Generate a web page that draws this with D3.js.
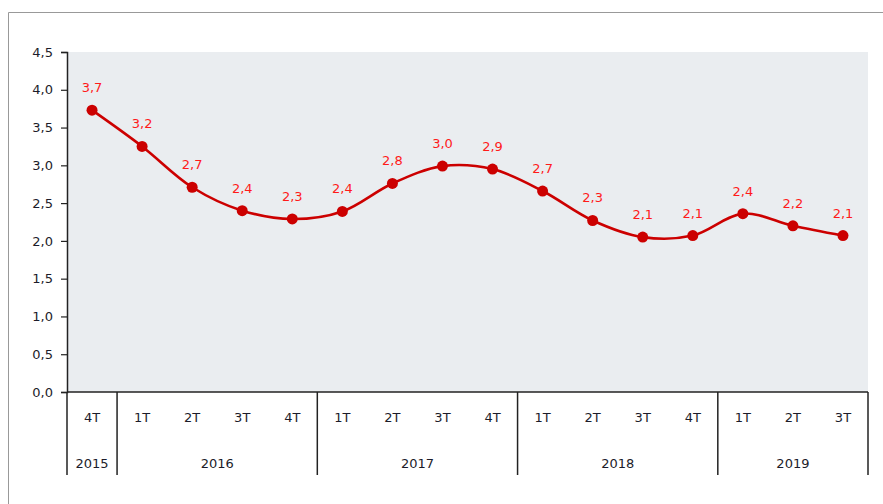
<!DOCTYPE html>
<html>
<head>
<meta charset="utf-8">
<script src="https://cdn.jsdelivr.net/npm/d3@7"></script>
<style>
  body { margin: 0; background: #fff; }
  svg { display: block; font-family: "DejaVu Sans", Verdana, sans-serif; }
</style>
</head>
<body>
<svg id="chart" width="883" height="504"></svg>
<script>
// quarters and values
var quarters = ["4T", "1T", "2T", "3T", "4T", "1T", "2T", "3T", "4T", "1T", "2T", "3T", "4T", "1T", "2T", "3T"];
var years = ["2015", "2016", "2016", "2016", "2016", "2017", "2017", "2017", "2017",
             "2018", "2018", "2018", "2018", "2019", "2019", "2019"];
var values = [3.73, 3.25, 2.71, 2.40, 2.29, 2.39, 2.76, 2.99, 2.95, 2.66, 2.27, 2.05, 2.07, 2.36, 2.20, 2.07];
var valueLabels = ["3,7", "3,2", "2,7", "2,4", "2,3", "2,4", "2,8", "3,0", "2,9", "2,7", "2,3", "2,1", "2,1", "2,4", "2,2", "2,1"];
var yTicks = [0, 0.5, 1, 1.5, 2, 2.5, 3, 3.5, 4, 4.5];

var svg = d3.select("#chart");
var plotLeft = 67, plotRight = 868, plotTop = 52, plotBottom = 392;
var fs = 13;

// outer frame
svg.append("path")
  .attr("d", "M8.5,504V12.5H883")
  .attr("fill", "none")
  .attr("stroke", "#999")
  .attr("stroke-width", 1);

var x = d3.scaleBand().domain(d3.range(quarters.length)).range([plotLeft, plotRight]);
var y = d3.scaleLinear().domain([0, 4.5]).range([plotBottom, plotTop]);
var cx = function(d, i) { return x(i) + x.bandwidth() / 2; };

svg.append("rect")
  .attr("x", plotLeft).attr("y", plotTop)
  .attr("width", plotRight - plotLeft).attr("height", plotBottom - plotTop)
  .attr("fill", "#eaedf0");

// y axis
var yAxis = svg.append("g")
  .attr("transform", "translate(" + plotLeft + ",0)")
  .call(d3.axisLeft(y).tickValues(yTicks).tickSize(6).tickPadding(8)
    .tickFormat(function(d) { return d3.format(".1f")(d).replace(".", ","); }));
yAxis.select(".domain").attr("stroke", "#222").attr("stroke-width", 1.5);
yAxis.selectAll(".tick line").attr("stroke", "#222").attr("stroke-width", 1.2);
yAxis.selectAll("text").attr("fill", "#1c1c2a").attr("font-size", fs)
  .attr("font-family", "DejaVu Sans, sans-serif");

// x axis base line
svg.append("line")
  .attr("x1", plotLeft).attr("x2", plotRight)
  .attr("y1", plotBottom).attr("y2", plotBottom)
  .attr("stroke", "#222").attr("stroke-width", 1.5);

// quarter labels
svg.append("g").selectAll("text")
  .data(quarters)
  .join("text")
  .attr("x", cx)
  .attr("y", 422)
  .attr("text-anchor", "middle")
  .attr("font-size", fs)
  .attr("fill", "#1c1c2a")
  .text(function(d) { return d; });

// year groups
var groups = [];
years.forEach(function(yr, i) {
  var last = groups[groups.length - 1];
  if (last && last.year === yr) last.end = i;
  else groups.push({year: yr, start: i, end: i});
});

var seps = [0].concat(groups.map(function(g) { return g.end + 1; }));
var sepX = function(d) { return d < quarters.length ? x(d) : plotRight; };
svg.append("g").selectAll("line")
  .data(seps)
  .join("line")
  .attr("x1", sepX)
  .attr("x2", sepX)
  .attr("y1", plotBottom).attr("y2", 475)
  .attr("stroke", "#222").attr("stroke-width", 1.5);

svg.append("g").selectAll("text")
  .data(groups)
  .join("text")
  .attr("x", function(g) { return (x(g.start) + x(g.end) + x.bandwidth()) / 2; })
  .attr("y", 468)
  .attr("text-anchor", "middle")
  .attr("font-size", fs)
  .attr("fill", "#1c1c2a")
  .text(function(g) { return g.year; });

// line
var line = d3.line()
  .x(cx)
  .y(function(d) { return y(d); })
  .curve(d3.curveCatmullRom.alpha(0.5));

svg.append("path")
  .datum(values)
  .attr("d", line)
  .attr("fill", "none")
  .attr("stroke", "#cc0000")
  .attr("stroke-width", 2.6);

svg.append("g").selectAll("circle")
  .data(values)
  .join("circle")
  .attr("cx", cx)
  .attr("cy", function(d) { return y(d); })
  .attr("r", 5.5)
  .attr("fill", "#cc0000");

svg.append("g").selectAll("text")
  .data(values)
  .join("text")
  .attr("x", cx)
  .attr("y", function(d) { return y(d) - 18; })
  .attr("text-anchor", "middle")
  .attr("font-size", fs)
  .attr("fill", "#ff1a1a")
  .text(function(d, i) { return valueLabels[i]; });
</script>
</body>
</html>
